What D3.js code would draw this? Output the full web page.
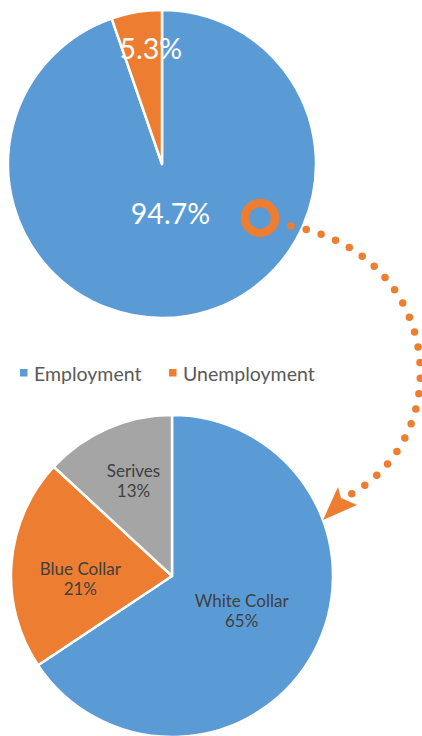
<!DOCTYPE html>
<html>
<head>
<meta charset="utf-8">
<script src="https://cdn.jsdelivr.net/npm/d3@7"></script>
<style>
  html, body { margin: 0; padding: 0; background: #fff; }
  svg { display: block; }
</style>
</head>
<body>
<svg id="chart" width="422" height="736"></svg>
<script>
// Labour force split
const statusCategories = ["Employment", "Unemployment"];
const statusValues = [94.7, 5.3];
const statusLabels = ["94.7%", "5.3%"];

// Breakdown of the employed
const jobCategories = ["White Collar", "Blue Collar", "Serives"];
const jobValues = [65, 21, 13];
const jobLabels = ["65%", "21%", "13%"];

const colors = ["#5B9BD5", "#ED7D31", "#A5A5A5"];
const svg = d3.select("#chart");
const font = "Lato, 'Open Sans', sans-serif";
const deg = Math.PI / 180;

const pie = d3.pie().sort(null).value(d => d);

// polar label anchor: mid-angle of the slice (nudged) at a fraction of the radius
function labelPos(d, r, place) {
  const a = (d.startAngle + d.endAngle) / 2 + place.nudge * deg;
  const rr = r * place.frac;
  return [rr * Math.sin(a), -rr * Math.cos(a)];
}

// ---- upper pie ----
const upper = { cx: 162, cy: 164, r: 154 };
const gTop = svg.append("g").attr("transform", `translate(${upper.cx},${upper.cy})`);
const topArcs = pie(statusValues);
const arcTop = d3.arc().innerRadius(0).outerRadius(upper.r);
gTop.selectAll("path").data(topArcs).join("path")
  .attr("d", arcTop)
  .attr("fill", (d, i) => colors[i])
  .attr("stroke", "#fff")
  .attr("stroke-width", 2.5)
  .attr("stroke-linejoin", "round");

const topPlace = [{ frac: 0.33, nudge: 0 }, { frac: 0.75, nudge: 4 }];
gTop.selectAll("text").data(topArcs).join("text")
  .attr("transform", (d, i) => `translate(${labelPos(d, upper.r, topPlace[i])})`)
  .attr("text-anchor", "middle")
  .attr("dy", "0.36em")
  .attr("fill", "#fff")
  .attr("font-family", font)
  .attr("font-size", 28.5)
  .text((d, i) => statusLabels[i]);

// ---- legend ----
const legend = svg.append("g").attr("font-family", font);
const legendX = [20, 169];
statusCategories.forEach((c, i) => {
  legend.append("rect")
    .attr("x", legendX[i]).attr("y", 369)
    .attr("width", 7.5).attr("height", 7.5)
    .attr("fill", colors[i]);
  legend.append("text")
    .attr("x", legendX[i] + 14).attr("y", 381)
    .attr("fill", "#595959")
    .attr("font-size", 19.5)
    .text(c);
});

// ---- lower pie ----
const lower = { cx: 172, cy: 576, r: 161 };
const gBot = svg.append("g").attr("transform", `translate(${lower.cx},${lower.cy})`);
const botArcs = pie(jobValues);
const arcBot = d3.arc().innerRadius(0).outerRadius(lower.r);
gBot.selectAll("path").data(botArcs).join("path")
  .attr("d", arcBot)
  .attr("fill", (d, i) => colors[i])
  .attr("stroke", "#fff")
  .attr("stroke-width", 2.5)
  .attr("stroke-linejoin", "round");

const botPlace = [{ frac: 0.486, nudge: -1 }, { frac: 0.57, nudge: -7 }, { frac: 0.63, nudge: 1.3 }];
const botLabels = gBot.selectAll("g.lbl").data(botArcs).join("g")
  .attr("class", "lbl")
  .attr("transform", (d, i) => `translate(${labelPos(d, lower.r, botPlace[i])})`)
  .attr("font-family", font)
  .attr("font-size", 17)
  .attr("fill", "#404040")
  .attr("text-anchor", "middle");
botLabels.append("text").attr("y", -5).text((d, i) => jobCategories[i]);
botLabels.append("text").attr("y", 15).text((d, i) => jobLabels[i]);

// ---- connector: ring on the employed slice, dotted arc down to the breakdown ----
const ann = svg.append("g");
ann.append("circle")
  .attr("cx", 260).attr("cy", 218).attr("r", 15)
  .attr("fill", "none")
  .attr("stroke", colors[1])
  .attr("stroke-width", 8.5);

ann.append("path")
  .attr("d", "M291,226 C445,255 460,440 344,498")
  .attr("fill", "none")
  .attr("stroke", colors[1])
  .attr("stroke-width", 7.5)
  .attr("stroke-linecap", "round")
  .attr("stroke-dasharray", "0 15.6");

ann.append("path")
  .attr("d", "M323,520 L338,487 L341,498 L357,505 Z")
  .attr("fill", colors[1]);
</script>
</body>
</html>
